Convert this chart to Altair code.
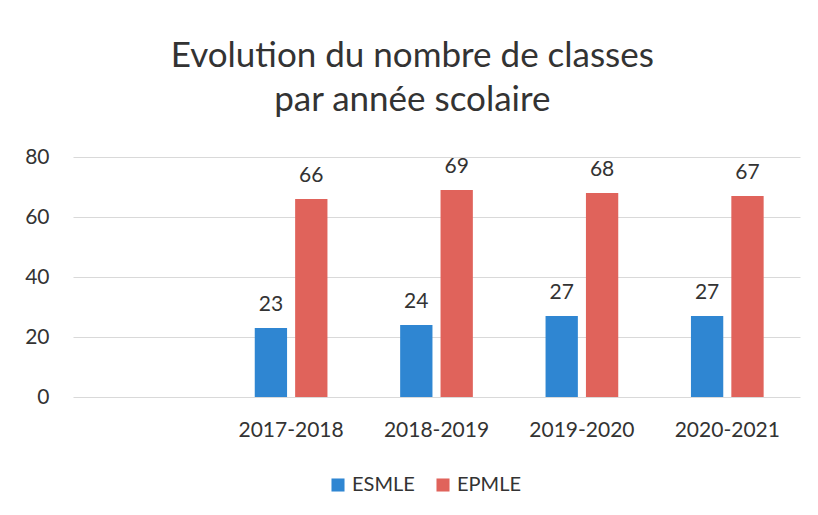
import altair as alt
import pandas as pd

years = ["2017-2018", "2018-2019", "2019-2020", "2020-2021"]
esmle = [23, 24, 27, 27]
epmle = [66, 69, 68, 67]
series = ["ESMLE", "EPMLE"]
colors = ["#2f86d2", "#e0635b"]
domain_x = [" "] + years

rows = []
for y, a, b in zip(years, esmle, epmle):
    rows.append({"annee": y, "serie": "ESMLE", "valeur": a})
    rows.append({"annee": y, "serie": "EPMLE", "valeur": b})
df = pd.DataFrame(rows)

FONT = "Lato"

x = alt.X("annee:N", sort=domain_x,
          scale=alt.Scale(domain=domain_x, paddingInner=0.5, paddingOuter=0.25),
          axis=alt.Axis(title=None, labelAngle=0, labelFontSize=21, labelColor="#333333",
                        labelFont=FONT, labelPadding=22, ticks=False, domain=False, grid=False))
xo = alt.XOffset("serie:N", sort=series,
                 scale=alt.Scale(domain=series, paddingInner=0.2, paddingOuter=0))
yenc = alt.Y("valeur:Q", scale=alt.Scale(domain=[0, 80]),
             axis=alt.Axis(title=None, values=[0, 20, 40, 60, 80], labelFontSize=21,
                           labelColor="#333333", labelFont=FONT, labelPadding=24,
                           ticks=False, domain=False, gridColor="#d9d9d9", gridWidth=1))

bars = alt.Chart(df).mark_bar().encode(
    x=x, xOffset=xo, y=yenc,
    color=alt.Color("serie:N", sort=series,
                    scale=alt.Scale(domain=series, range=colors),
                    legend=alt.Legend(title=None, orient="none", direction="horizontal",
                                      legendX=255, legendY=318, labelFontSize=20,
                                      labelFont=FONT, labelColor="#333333",
                                      symbolType="square", symbolSize=170,
                                      symbolStrokeWidth=0, columnPadding=18)),
)
labels = alt.Chart(df).mark_text(baseline="bottom", dy=-13, fontSize=21, font=FONT,
                                 color="#333333").encode(
    x=x, xOffset=xo, y=yenc, text="valeur:Q")

chart = (bars + labels).properties(
    width=727, height=240,
    title=alt.Title(["Evolution du nombre de classes", "par année scolaire"],
                    fontSize=35, font=FONT, fontWeight="normal", color="#333333",
                    anchor="middle", frame="bounds", lineHeight=44, offset=28),
    autosize=alt.AutoSizeParams(type="none"),
    padding={"left": 65, "top": 149, "right": 10, "bottom": 110},
).configure_view(stroke=None)

chart.save("out.html", embed_options={"renderer": "svg", "actions": False})
